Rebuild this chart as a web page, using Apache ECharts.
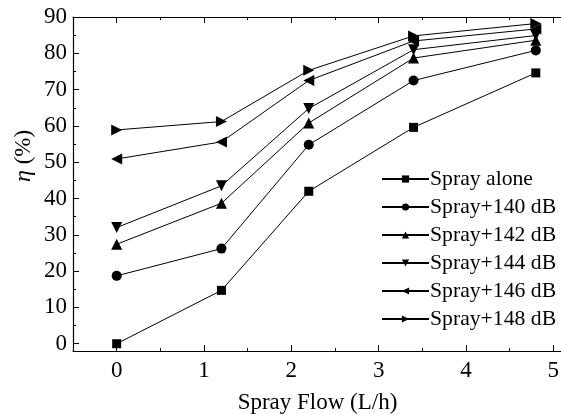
<!DOCTYPE html>
<html>
<head>
<meta charset="utf-8">
<script src="https://cdn.jsdelivr.net/npm/echarts@6/dist/echarts.min.js"></script>
<style>
html,body{margin:0;padding:0;background:#fff;}
#main{width:561px;height:414px;}
</style>
</head>
<body>
<div id="main"></div>
<script>
// spray flow (L/h)
var flows = [0, 1.2, 2.2, 3.4, 4.8];
var names = ['Spray alone', 'Spray+140 dB', 'Spray+142 dB', 'Spray+144 dB', 'Spray+146 dB', 'Spray+148 dB'];
// efficiency eta (%)
var sprayAlone = [0, 14.7, 42.0, 59.6, 74.6];
var spray140 = [18.7, 26.2, 54.8, 72.5, 80.8];
var spray142 = [27.4, 38.7, 60.8, 78.7, 83.6];
var spray144 = [32.0, 43.5, 64.8, 81.0, 84.9];
var spray146 = [50.9, 55.6, 72.5, 83.4, 86.7];
var spray148 = [58.9, 61.2, 75.3, 84.8, 88.2];

var allData = [sprayAlone, spray140, spray142, spray144, spray146, spray148];
var symbols = ['rect', 'circle', 'triangle', 'triangle', 'triangle', 'triangle'];
var rotates = [0, 0, 0, 180, 90, -90];
var sizes = [9, 10, 11, 11, 11, 11];

var font = 'Liberation Serif';
var chart = echarts.init(document.getElementById('main'));

var series = [];
for (var i = 0; i < names.length; i++) {
    var pts = [];
    for (var j = 0; j < flows.length; j++) {
        pts.push([flows[j], allData[i][j]]);
    }
    series.push({
        name: names[i],
        type: 'line',
        data: pts,
        symbol: symbols[i],
        symbolRotate: rotates[i],
        symbolSize: sizes[i],
        lineStyle: {color: '#000', width: 1},
        itemStyle: {color: '#000'},
        animation: false
    });
}

var xBase = {
    min: -0.5, max: 5.1, splitNumber: 6,
    axisLine: {show: true, onZero: false, lineStyle: {color: '#000', width: 1.2}},
    axisTick: {show: true, inside: true, length: 6, lineStyle: {color: '#000'}},
    minorTick: {show: true, splitNumber: 2, length: 3, lineStyle: {color: '#000'}},
    splitLine: {show: false}
};

var option = {
    backgroundColor: '#fff',
    animation: false,
    grid: {left: 73, right: -1, top: 17, bottom: 63, outerBoundsMode: 'none', containLabel: false},
    legend: {
        orient: 'vertical',
        left: 381, top: 168,
        padding: 0,
        itemWidth: 47, itemHeight: 9,
        itemGap: 6,
        textStyle: {fontFamily: font, fontSize: 21.7, color: '#000', padding: [0, 0, 0, -4]},
        data: names
    },
    xAxis: [
        Object.assign({}, xBase, {
            type: 'value', position: 'bottom',
            name: 'Spray Flow (L/h)', nameLocation: 'middle', nameGap: 40,
            nameTextStyle: {fontFamily: font, fontSize: 23, color: '#000'},
            axisLabel: {fontFamily: font, fontSize: 23, color: '#000', margin: 8,
                showMinLabel: false, showMaxLabel: false}
        }),
        Object.assign({}, xBase, {
            type: 'value', position: 'top',
            axisLabel: {show: false}
        })
    ],
    yAxis: {
        type: 'value', min: -2, max: 90, splitNumber: 9,
        axisLine: {show: true, onZero: false, lineStyle: {color: '#000', width: 1.2}},
        axisTick: {show: true, inside: true, length: 6, lineStyle: {color: '#000'}},
        minorTick: {show: true, splitNumber: 2, length: 3, lineStyle: {color: '#000'}},
        splitLine: {show: false},
        axisLabel: {fontFamily: font, fontSize: 23, color: '#000', margin: 6,
            showMinLabel: false}
    },
    graphic: [{
        type: 'text',
        x: 12, y: 182,
        rotation: Math.PI / 2,
        style: {
            text: '{i|η} (%)',
            font: '23px "Liberation Serif"',
            fill: '#000',
            rich: {i: {fontStyle: 'italic', fontFamily: font, fontSize: 24}}
        }
    }],
    series: series
};
chart.setOption(option);
</script>
</body>
</html>
